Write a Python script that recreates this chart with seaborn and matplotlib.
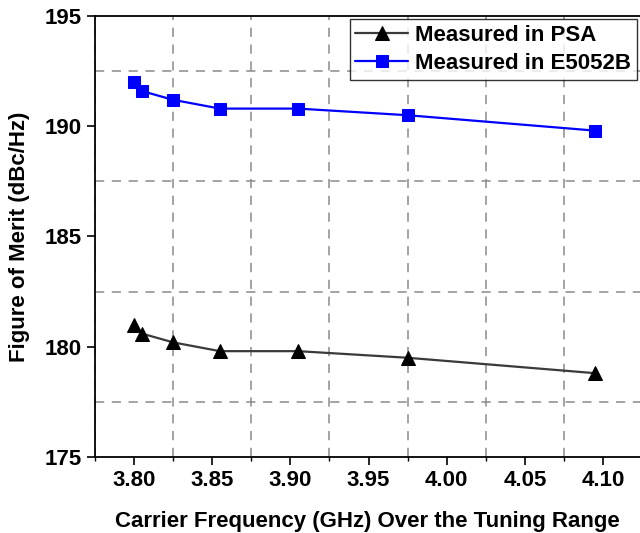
import matplotlib
matplotlib.use("Agg")
import matplotlib.pyplot as plt
import seaborn as sns
import pandas as pd
from matplotlib.ticker import MultipleLocator, FixedLocator

freq = [3.80, 3.805, 3.825, 3.855, 3.905, 3.975, 4.095]
fom_psa = [181.0, 180.6, 180.2, 179.8, 179.8, 179.5, 178.8]
fom_e5052b = [192.0, 191.6, 191.2, 190.8, 190.8, 190.5, 189.8]
series_names = ["Measured in PSA", "Measured in E5052B"]
x_ticks = [3.80, 3.85, 3.90, 3.95, 4.00, 4.05, 4.10]
y_ticks = [175, 180, 185, 190, 195]

sns.set_theme(style="white")
plt.rcParams['font.family'] = ['Liberation Sans', 'DejaVu Sans']
plt.rcParams['font.weight'] = 'bold'
plt.rcParams['text.color'] = 'black'
plt.rcParams['axes.labelcolor'] = 'black'

fig = plt.figure(figsize=(6.4, 5.33), dpi=100)
ax = fig.add_axes([0.148, 0.1426, 0.852, 0.8274])

df_psa = pd.DataFrame({"f": freq, "fom": fom_psa})
df_e = pd.DataFrame({"f": freq, "fom": fom_e5052b})

sns.lineplot(data=df_psa, x="f", y="fom", ax=ax, color="#3a3a3a", marker="^",
             markersize=10, markerfacecolor="black", markeredgecolor="black",
             linewidth=1.6, label=series_names[0])
sns.lineplot(data=df_e, x="f", y="fom", ax=ax, color="#0000FF", marker="s",
             markersize=8, markerfacecolor="#0000FF", markeredgecolor="#0000FF",
             linewidth=1.6, label=series_names[1])

ax.set_xlim(3.775, 4.1235)
ax.set_ylim(175, 195)
ax.xaxis.set_major_locator(FixedLocator(x_ticks))
ax.set_xticklabels([f"{v:.2f}" for v in x_ticks])
ax.yaxis.set_major_locator(FixedLocator(y_ticks))
ax.xaxis.set_minor_locator(MultipleLocator(0.05, offset=0.025))
ax.yaxis.set_minor_locator(MultipleLocator(5, offset=2.5))
ax.grid(False)
ax.grid(which='minor', color='#8a8a8a', linestyle=(0, (6, 5)), linewidth=1.1)

for s in ['left', 'bottom', 'top']:
    ax.spines[s].set_color('black')
    ax.spines[s].set_linewidth(1.3)
ax.spines['right'].set_visible(False)

ax.tick_params(axis='both', which='major', direction='out', length=5.5, width=1.2,
               color='black', labelsize=16, labelcolor='black', bottom=True, left=True, pad=4)
ax.tick_params(axis='x', which='minor', direction='out', length=3, width=1.0,
               color='black', bottom=True)
ax.tick_params(axis='y', which='minor', length=0)
for lab in ax.get_xticklabels() + ax.get_yticklabels():
    lab.set_fontweight('bold')

ax.set_xlabel("Carrier Frequency (GHz) Over the Tuning Range", fontsize=16,
              fontweight='bold', color='black', labelpad=14)
ax.set_ylabel("Figure of Merit (dBc/Hz)", fontsize=16, fontweight='bold',
              color='black', labelpad=10)

leg = ax.legend(loc='upper right', fontsize=16, frameon=True, fancybox=False,
                edgecolor='black', borderpad=0.25, handlelength=2.4,
                handletextpad=0.3, labelspacing=0.33, borderaxespad=0.15)
leg.get_frame().set_linewidth(1.0)
for t in leg.get_texts():
    t.set_fontweight('bold')
    t.set_color('black')

fig.savefig("out.png", dpi=100)
